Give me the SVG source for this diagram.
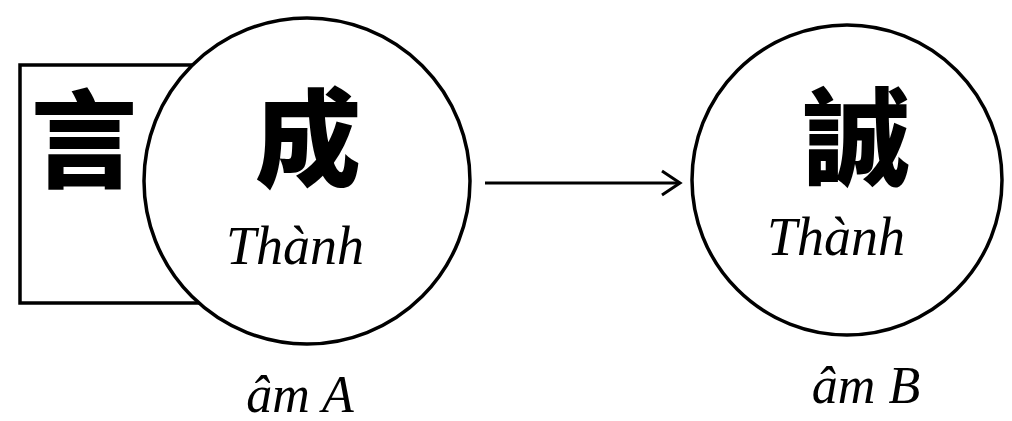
<svg xmlns="http://www.w3.org/2000/svg" width="1012" height="421" viewBox="0 0 1012 421">
<style>
.shape{fill:#fff;stroke:#000;stroke-width:3.5}
.han{font-family:"Noto Sans CJK TC","Noto Sans CJK JP",sans-serif;font-weight:900;font-size:106px;text-anchor:middle;fill:#000}
.rom{font-family:"Liberation Serif",serif;font-style:italic;font-size:54px;text-anchor:middle;fill:#000}
.lbl{font-family:"Liberation Serif",serif;font-style:italic;font-size:52px;text-anchor:middle;fill:#000}
.conn{fill:none;stroke:#000;stroke-width:3}
</style>
<defs>
<marker id="arr" viewBox="0 0 24 30" refX="21" refY="15" markerWidth="24" markerHeight="30" markerUnits="userSpaceOnUse" orient="auto">
<path d="M3,3 L21,15 L3,27" fill="none" stroke="#000" stroke-width="3"/>
</marker>
</defs>
<rect width="1012" height="421" fill="#fff"/>
<g id="box-yan">
<rect class="shape" x="20" y="65" width="200" height="238"/>
<text class="han" x="84" y="179">言</text>
</g>
<g id="node-a">
<circle class="shape" cx="307" cy="181" r="163"/>
<text class="han" x="308" y="178">成</text>
<text class="rom" x="295" y="264">Thành</text>
</g>
<g id="node-b">
<circle class="shape" cx="847" cy="180" r="155"/>
<text class="han" x="857" y="177">誠</text>
<text class="rom" x="836" y="255">Thành</text>
</g>
<g id="connectors">
<line class="conn" x1="485" y1="183" x2="680" y2="183" marker-end="url(#arr)"/>
</g>
<g id="labels">
<text class="lbl" x="300" y="412">âm A</text>
<text class="lbl" x="866" y="403">âm B</text>
</g>
</svg>
